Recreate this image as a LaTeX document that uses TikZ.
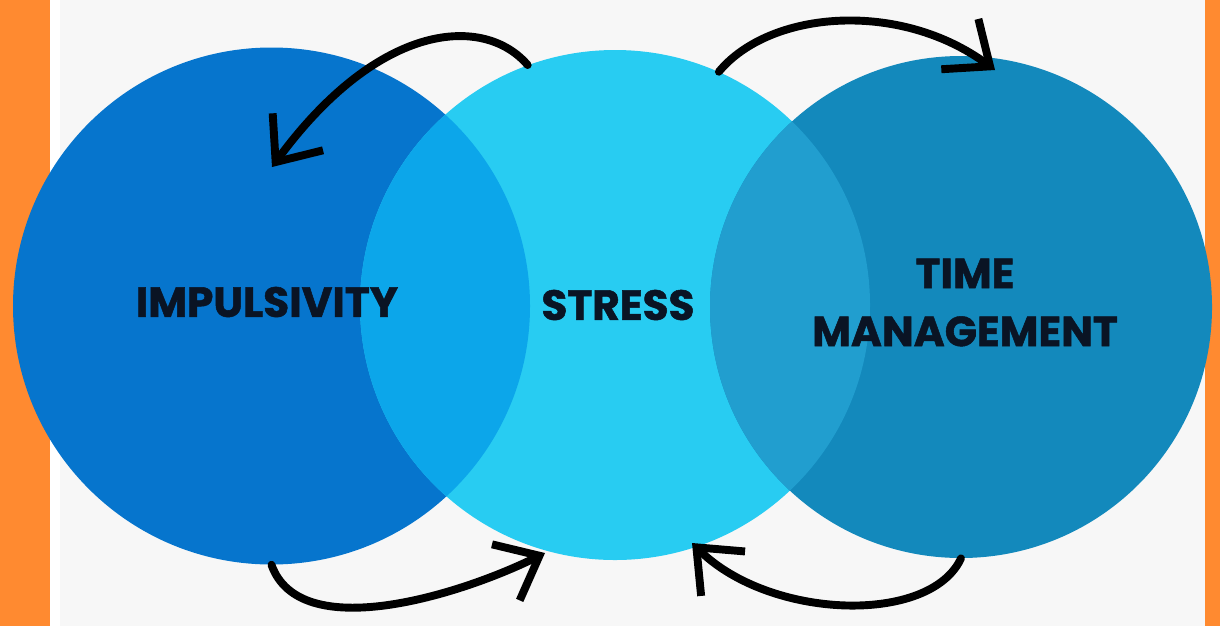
\documentclass[tikz,border=0pt]{standalone}
\usepackage{fontspec}
\usetikzlibrary{arrows.meta}
\newfontfamily\vennfont[BoldFeatures={FakeBold=1.2}]{Poppins}

\definecolor{impblue}{RGB}{6,117,205}
\definecolor{stresscyan}{RGB}{40,204,242}
\definecolor{timeteal}{RGB}{19,137,188}
\definecolor{impstress}{RGB}{12,166,234}
\definecolor{stresstime}{RGB}{33,158,207}
\definecolor{barorange}{RGB}{255,138,48}
\definecolor{pagegrey}{RGB}{247,247,247}
\definecolor{inkblack}{RGB}{10,20,36}

\begin{document}
\begin{tikzpicture}[
    every node/.style={inner sep=0pt},
    disc/.style={circle, draw=none},
    tag/.style={font=\vennfont\bfseries\fontsize{24}{33}\selectfont, text=inkblack, align=center},
    loop/.style={line width=4.5pt, line cap=round, -{Straight Barb[length=0.75cm, width=1.25cm]}}
]

% page and side bars
\useasboundingbox (0,0) rectangle (24.4,-12.52);
\fill[pagegrey] (0,0) rectangle (24.4,-12.52);
\fill[barorange] (0,0) rectangle (1.0,-12.52);
\fill[white] (1.0,0) rectangle (1.2,-12.52);
\fill[barorange] (24.1,0) rectangle (24.4,-12.52);

% the three circles
\node[disc, fill=impblue, minimum size=10.34cm] (impulsivity) at (5.43,-6.12) {};
\node[disc, fill=stresscyan, minimum size=10.2cm] (stress) at (12.3,-6.1) {};
\node[disc, fill=timeteal, minimum size=10.04cm] (management) at (19.22,-6.14) {};

% overlaps
\begin{scope}
    \clip (impulsivity.center) circle (5.17);
    \fill[impstress] (stress.center) circle (5.1);
\end{scope}
\begin{scope}
    \clip (management.center) circle (5.02);
    \fill[stresstime] (stress.center) circle (5.1);
\end{scope}

% arrows
\coordinate (tipA) at (5.44,-3.34);
\coordinate (tipB) at (19.9,-1.4);
\coordinate (tipC) at (10.9,-11.06);
\coordinate (tipD) at (13.84,-10.86);
\draw[loop] (stress.110) .. controls (9.7,-0.3) and (7.6,-0.4) .. (tipA);
\draw[loop] (stress.66) .. controls (15.4,-0.2) and (18.0,0.0) .. (tipB);
\draw[loop] (impulsivity.-90) .. controls (6.0,-12.9) and (9.2,-11.9) .. (tipC);
\draw[loop] (management.-90) .. controls (18.6,-12.5) and (15.4,-12.4) .. (tipD);

% labels
\node[tag] (impulsivity-label) at (5.34,-6.04) {IMPULSIVITY};
\node[tag] (stress-label) at (12.36,-6.1) {STRESS};
\node[tag] (management-label) at (19.3,-6.05) {TIME\\MANAGEMENT};

\end{tikzpicture}
\end{document}
